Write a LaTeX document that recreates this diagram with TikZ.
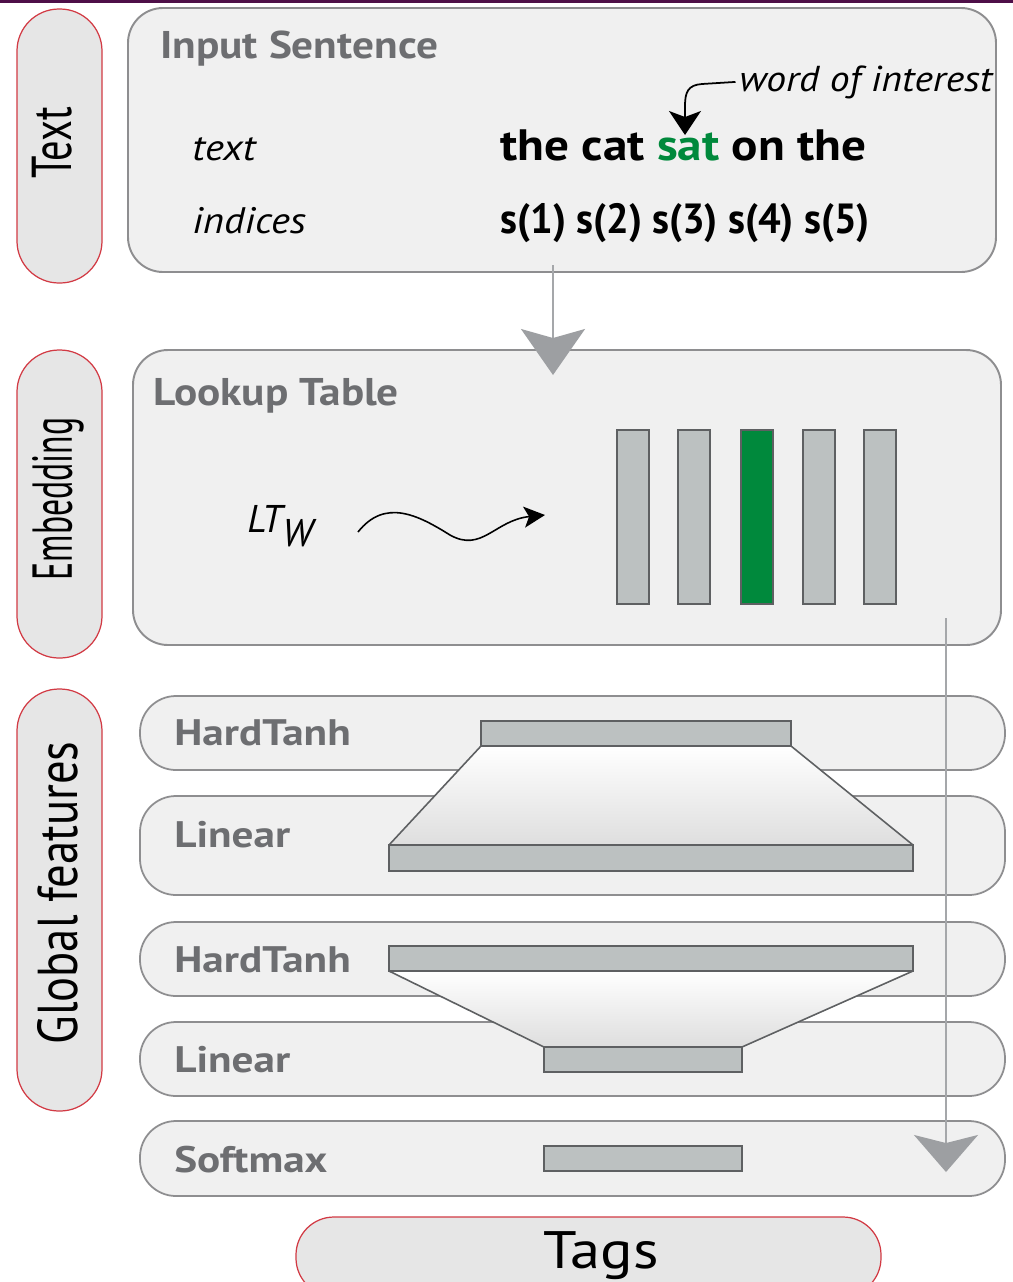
\documentclass[tikz,border=0pt]{standalone}
\usepackage{fontspec}
\setmainfont{PT Sans}
\newfontfamily\rowfont[FakeStretch=1.17]{PT Sans}
\newfontfamily\headfont[FakeStretch=1.12]{PT Sans}
\newfontfamily\wordfont[FakeStretch=1.12]{PT Sans}
\newfontfamily\idxfont[FakeStretch=0.95]{PT Sans}
\newfontfamily\keyfont[FakeStretch=1.1]{PT Sans}
\newfontfamily\tagfont[FakeStretch=1.15]{PT Sans}
\usetikzlibrary{arrows.meta}

\definecolor{panelfill}{HTML}{F0F0F0}
\definecolor{panelline}{HTML}{8E8E90}
\definecolor{pillfill}{HTML}{E6E6E6}
\definecolor{pillline}{HTML}{D23A44}
\definecolor{labelgray}{HTML}{6D6E71}
\definecolor{barfill}{HTML}{BCC1C1}
\definecolor{barline}{HTML}{5E6062}
\definecolor{wordgreen}{HTML}{00893C}
\definecolor{flowgray}{HTML}{A5A7AA}
\definecolor{topline}{HTML}{4E0F48}

\begin{document}
\begin{tikzpicture}[x=0.02cm, y=-0.02cm,
    panel/.style={draw=panelline, line width=1.1pt, fill=panelfill, rounded corners=0.7cm},
    sidepill/.style={draw=pillline, line width=0.7pt, fill=pillfill, rounded corners=0.84cm},
    rowbox/.style={draw=panelline, line width=1pt, fill=panelfill, rounded corners=0.72cm},
    bar/.style={draw=barline, line width=0.9pt, fill=barfill},
    headlabel/.style={anchor=base west, inner sep=0pt, text=labelgray,
        font=\headfont\bfseries\fontsize{22}{26}\selectfont},
    rowlabel/.style={anchor=base west, inner sep=0pt, text=labelgray,
        font=\rowfont\bfseries\fontsize{21}{24}\selectfont},
    keylabel/.style={anchor=base west, inner sep=0pt, font=\keyfont\itshape\fontsize{21}{24}\selectfont},
    wordlabel/.style={anchor=base west, inner sep=0pt, font=\wordfont\bfseries\fontsize{25}{28}\selectfont},
    sidelabel/.style={rotate=90, inner sep=0pt, font=\fontsize{32}{36}\selectfont},
    flow/.style={draw=flowgray, line width=1pt,
        -{Stealth[length=0.92cm, width=1.28cm, inset=0.18cm, color=flowgray!95!black]}}
]
\clip (0,0) rectangle (1013,1282);
\fill[white] (0,0) rectangle (1013,1282);
\fill[topline] (0,0) rectangle (1013,2.5);

% Side pills
\draw[sidepill] (17,9) rectangle (102,283);
\node[sidelabel] (sidetext) at (52,143) {\scalebox{0.72}[1]{Text}};
\draw[sidepill] (17,350) rectangle (102,658);
\node[sidelabel] (sideemb) at (58,499) {\scalebox{0.6}[1]{Embedding}};
\draw[sidepill] (17,689) rectangle (102,1111);
\node[sidelabel] (sideglob) at (58,893) {\scalebox{0.83}[1]{Global features}};

% Text panel
\draw[panel] (128,8) rectangle (996,272);
\node[headlabel] (inhead) at (160,58) {Input Sentence};
\node[keylabel] (textkey) at (192,160) {text};
\node[keylabel] (indkey) at (192,233) {indices};
\node[wordlabel] (sentence) at (500,160) {the cat {\color{wordgreen}sat} on the};
\node[wordlabel, font=\idxfont\bfseries\fontsize{24}{28}\selectfont] (indices) at (500,233) {s(1) s(2) s(3) s(4) s(5)};
\node[keylabel, font=\keyfont\itshape\fontsize{20.5}{24}\selectfont] (interest) at (739,91) {word of interest};
\coordinate (wordtip) at (685,135);
\draw[line width=1pt, -{Stealth[length=0.48cm, width=0.64cm, inset=0.12cm]}]
    ([xshift=-2pt]interest.west) -- (702,84) .. controls (688,85) and (685,92) .. (685,106) -- (wordtip);

% Embedding panel
\draw[panel] (133,350) rectangle (1001,645);
\node[headlabel] (lookhead) at (153,405) {Lookup Table};
\node[anchor=base west, inner sep=0pt, font=\itshape\fontsize{22}{26}\selectfont]
    (ltw) at (247,532) {LT\textsubscript{\fontsize{22}{26}\selectfont W}};
\coordinate (wavein) at (358,532);
\coordinate (waveout) at (545,515);
\draw[line width=0.9pt, -{Stealth[length=0.42cm, width=0.42cm, inset=0.1cm]}]
    (wavein) .. controls (385,498) and (418,515) .. (450,535)
    .. controls (482,553) and (495,520) .. (waveout);
\foreach \bx in {617,678,803,864}
    \draw[bar] (\bx,430) rectangle ++(32,174);
\draw[bar, fill=wordgreen] (741,430) rectangle ++(32,174);

% Layer rows
\draw[rowbox] (140,696) rectangle (1005,770);
\draw[rowbox] (140,796) rectangle (1005,895);
\draw[rowbox] (140,922) rectangle (1005,996);
\draw[rowbox] (140,1022) rectangle (1005,1096);
\draw[rowbox] (140,1121) rectangle (1005,1196);
\node[rowlabel] (tanhA) at (174,745) {HardTanh};
\node[rowlabel] (linA) at (174,847) {Linear};
\node[rowlabel] (tanhB) at (174,972) {HardTanh};
\node[rowlabel] (linB) at (174,1072) {Linear};
\node[rowlabel] (soft) at (174,1172) {Softmax};

% Upper funnel
\shade[top color=white, bottom color=black!13] (481,746) -- (791,746) -- (913,845) -- (389,845) -- cycle;
\draw[barline, line width=0.9pt] (481,746) -- (389,845) (791,746) -- (913,845);
\draw[bar] (481,721) rectangle (791,746);
\draw[bar] (389,845) rectangle (913,871);

% Lower funnel
\shade[top color=white, bottom color=black!13] (389,971) -- (913,971) -- (742,1047) -- (544,1047) -- cycle;
\draw[barline, line width=0.9pt] (389,971) -- (544,1047) (913,971) -- (742,1047);
\draw[bar] (389,946) rectangle (913,971);
\draw[bar] (544,1047) rectangle (742,1072);
\draw[bar] (544,1146) rectangle (742,1171);

% Tags
\draw[sidepill, rounded corners=0.76cm] (296,1217) rectangle (881,1296);
\node[inner sep=0pt, font=\tagfont\fontsize{30}{34}\selectfont] (tags) at (601,1256) {Tags};

% Flow arrows
\coordinate (textout) at (553,265);
\coordinate (embin) at (553,375);
\draw[flow] (textout) -- (embin);
\coordinate (embout) at (946,618);
\coordinate (softin) at (946,1172);
\draw[flow, -{Stealth[length=0.74cm, width=1.28cm, inset=0.16cm, color=flowgray!95!black]}]
    (embout) -- (softin);

\end{tikzpicture}
\end{document}
